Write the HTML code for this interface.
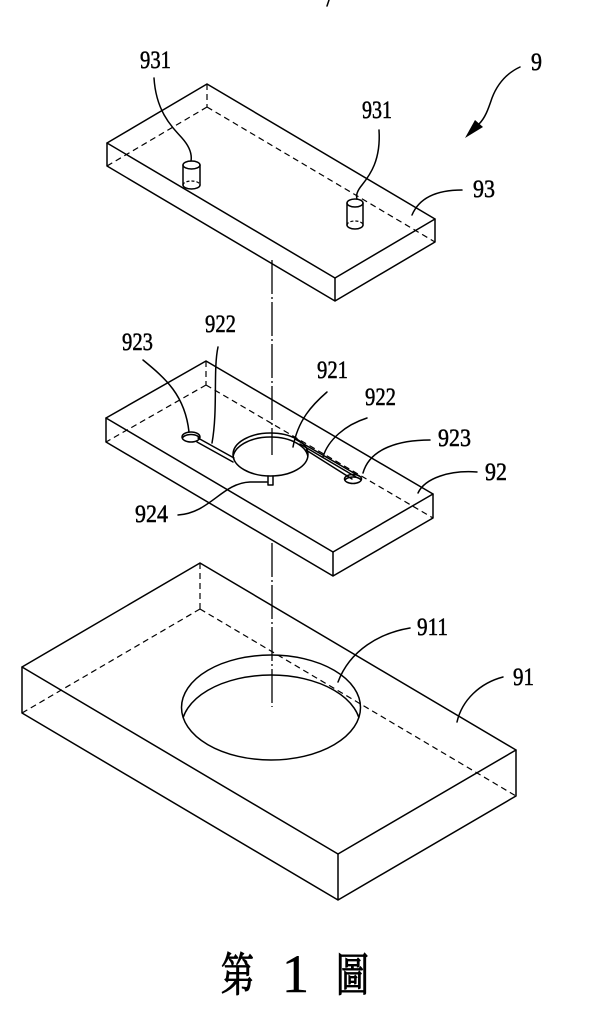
<!DOCTYPE html>
<html>
<head>
<meta charset="utf-8">
<style>
  html, body { margin: 0; padding: 0; background: #fff; }
  body { width: 613px; height: 1024px; overflow: hidden; }
  svg { display: block; }
  .l { fill: none; stroke: #000; stroke-width: 1.5; stroke-linejoin: round; stroke-linecap: round; }
  .d { fill: none; stroke: #000; stroke-width: 1.2; stroke-dasharray: 6 4; }
  .c { fill: none; stroke: #000; stroke-width: 1.3; stroke-dasharray: 34 3 2 3; }
  .t { font-family: "Liberation Serif", serif; font-size: 25px; fill: #000; stroke: #000; stroke-width: 0.5; }
  .k { font-family: "Liberation Serif", "Noto Serif CJK TC", "Noto Serif CJK SC", serif; fill: #000; stroke: #000; stroke-width: 1.1; }
</style>
</head>
<body>
<svg width="613" height="1024" viewBox="0 0 613 1024" xmlns="http://www.w3.org/2000/svg">
  <defs>
    <clipPath id="cHole"><ellipse cx="271" cy="707.5" rx="89.5" ry="52.5"/></clipPath>
    <clipPath id="cCirc"><ellipse cx="270.5" cy="454.5" rx="37.5" ry="21.5"/></clipPath>
    <clipPath id="cH1"><ellipse cx="191" cy="437" rx="9" ry="5"/></clipPath>
    <clipPath id="cH2"><ellipse cx="353" cy="479" rx="8.5" ry="4.5"/></clipPath>
  </defs>

  <!-- small tick at top -->
  <path class="l" d="M329,0 L327,6"/>

  <!-- ===== Top block 93 ===== -->
  <path class="l" d="M107,143 L207,84 L435,219 L335,278 Z"/>
  <path class="l" d="M107,143 L107,166 L335,301 L435,242 L435,219 M335,278 L335,301"/>
  <path class="d" d="M207,84 L207,107 M207,107 L107,166 M207,107 L435,242"/>

  <!-- pins 931 -->
  <path class="l" d="M183,165 L183,185 M200,165 L200,185"/>
  <ellipse class="l" cx="191.5" cy="165" rx="8.5" ry="4"/>
  <path class="l" d="M183,185 A8.5,4 0 0 0 200,185"/>
  <path class="d" style="stroke-dasharray:3 2" d="M183,185 A8.5,4 0 0 1 200,185"/>

  <path class="l" d="M347,203 L347,225 M363,203 L363,225"/>
  <ellipse class="l" cx="355" cy="203" rx="8" ry="4"/>
  <path class="l" d="M347,225 A8,4 0 0 0 363,225"/>
  <path class="d" style="stroke-dasharray:3 2" d="M347,225 A8,4 0 0 1 363,225"/>

  <!-- ===== Middle block 92 ===== -->
  <path class="l" d="M106,418 L206,361 L433,494 L333,552 Z"/>
  <path class="l" d="M106,418 L106,442 L333,576 L433,518 L433,494 M333,552 L333,576"/>
  <path class="d" d="M206,361 L206,385 M206,385 L106,442 M206,385 L433,518"/>

  <!-- circle 921 -->
  <ellipse class="l" cx="270.5" cy="454.5" rx="37.5" ry="21.5" style="fill:#fff"/>
  <ellipse class="l" cx="270.5" cy="458.5" rx="37.5" ry="21.5" clip-path="url(#cCirc)"/>
  <!-- holes 923 -->
  <ellipse class="l" cx="191" cy="437" rx="9" ry="5"/>
  <ellipse class="l" cx="191" cy="439.5" rx="9" ry="5" clip-path="url(#cH1)"/>
  <ellipse class="l" cx="353" cy="479" rx="8.5" ry="4.5"/>
  <ellipse class="l" cx="353" cy="481.5" rx="8.5" ry="4.5" clip-path="url(#cH2)"/>
  <!-- slots 922 -->
  <path class="l" d="M198,438 L234,458 M197,442 L233,462"/>
  <path class="l" d="M295,439 L359,476 M300,444 L356,477 M306,450 L352,479"/>
  <!-- notch 924 -->
  <path class="l" d="M268,476 L268,485 L273,485 L273,476"/>

  <!-- ===== Bottom block 91 ===== -->
  <path class="l" d="M22,667 L200,563 L516,750 L338,854 Z"/>
  <path class="l" d="M22,667 L22,713 L338,900 L516,796 L516,750 M338,854 L338,900"/>
  <path class="d" d="M200,563 L200,609 M200,609 L22,713 M200,609 L516,796"/>
  <!-- hole 911 -->
  <ellipse class="l" cx="271" cy="707.5" rx="89.5" ry="52.5"/>
  <ellipse class="l" cx="271" cy="727.5" rx="89.5" ry="52.5" clip-path="url(#cHole)"/>

  <!-- ===== center line ===== -->
  <path class="c" d="M272,260 L272,455"/>
  <path class="c" d="M272,543 L272,707"/>

  <!-- ===== leaders ===== -->
  <path class="l" d="M154,78 C156,110 170,125 182,138 C190,147 192,155 191,161"/>
  <path class="l" d="M379,130 C381,160 370,175 362,185 C357,191 356,196 357,199"/>
  <path class="l" d="M520,67 C505,74 497,85 492,98 C488,110 485,118 479,124"/>
  <polygon points="465,138 475,120 483,127" fill="#000"/>
  <path class="l" d="M462,190 C440,190 420,196 412,215"/>
  <path class="l" d="M143,360 C165,378 185,395 189,432"/>
  <path class="l" d="M218,347 C213,370 218,410 212,443"/>
  <path class="l" d="M327,392 C312,405 298,420 293,447"/>
  <path class="l" d="M367,418 C345,425 328,440 323,457"/>
  <path class="l" d="M430,440 C400,440 370,448 363,473"/>
  <path class="l" d="M477,472 C450,470 425,478 418,493"/>
  <path class="l" d="M178,515 C210,513 222,483 250,482 L267,482"/>
  <path class="l" d="M410,628 C380,633 350,650 338,682"/>
  <path class="l" d="M503,677 C480,683 462,700 457,722"/>

  <!-- ===== labels ===== -->
  <text class="t" x="140" y="68" textLength="31" lengthAdjust="spacingAndGlyphs">931</text>
  <text class="t" x="362" y="118" textLength="30" lengthAdjust="spacingAndGlyphs">931</text>
  <text class="t" x="531" y="70" textLength="11" lengthAdjust="spacingAndGlyphs">9</text>
  <text class="t" x="473" y="197" textLength="22" lengthAdjust="spacingAndGlyphs">93</text>
  <text class="t" x="122" y="350" textLength="31" lengthAdjust="spacingAndGlyphs">923</text>
  <text class="t" x="205" y="332" textLength="31" lengthAdjust="spacingAndGlyphs">922</text>
  <text class="t" x="317" y="378" textLength="31" lengthAdjust="spacingAndGlyphs">921</text>
  <text class="t" x="365" y="405" textLength="31" lengthAdjust="spacingAndGlyphs">922</text>
  <text class="t" x="438" y="446" textLength="33" lengthAdjust="spacingAndGlyphs">923</text>
  <text class="t" x="485" y="480" textLength="22" lengthAdjust="spacingAndGlyphs">92</text>
  <text class="t" x="135" y="522" textLength="33" lengthAdjust="spacingAndGlyphs">924</text>
  <text class="t" x="417" y="635" textLength="31" lengthAdjust="spacingAndGlyphs">911</text>
  <text class="t" x="513" y="685" textLength="21" lengthAdjust="spacingAndGlyphs">91</text>

  <!-- ===== caption ===== -->
  <text class="k" x="221" y="991" font-size="46" textLength="33" lengthAdjust="spacingAndGlyphs">第</text>
  <text class="k" x="282" y="992" font-size="54" style="stroke-width:0.6">1</text>
  <text class="k" x="336" y="991" font-size="46" textLength="33" lengthAdjust="spacingAndGlyphs">圖</text>
</svg>
</body>
</html>
